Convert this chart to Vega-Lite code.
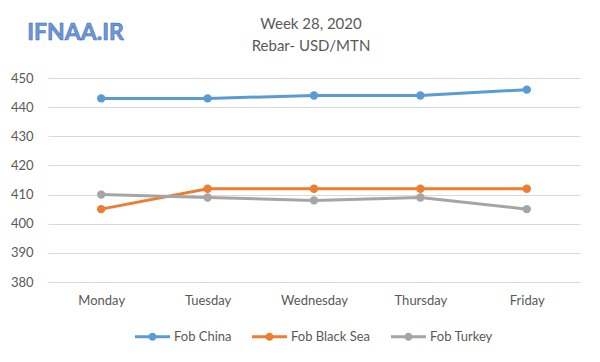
{
  "$schema": "https://vega.github.io/schema/vega-lite/v6.json",
  "width": 532,
  "height": 204,
  "autosize": {"type": "none"},
  "padding": {"left": 48, "top": 78, "right": 20, "bottom": 80},
  "background": "white",
  "config": {
    "font": "Lato",
    "view": {"stroke": null},
    "axis": {"labelColor": "#595959", "labelFontSize": 13, "gridColor": "#D9D9D9", "gridWidth": 1},
    "legend": {"layout": {"bottom": {"anchor": "middle"}}}
  },
  "title": {
    "text": ["Week 28, 2020", "Rebar- USD/MTN"],
    "fontSize": 15,
    "fontWeight": "normal",
    "color": "#595959",
    "lineHeight": 22,
    "anchor": "middle",
    "offset": 12,
    "dy": 44,
    "dx": -3
  },
  "datasets": {
    "prices": [
      {"day": "Monday", "series": "Fob China", "price": 443},
      {"day": "Tuesday", "series": "Fob China", "price": 443},
      {"day": "Wednesday", "series": "Fob China", "price": 444},
      {"day": "Thursday", "series": "Fob China", "price": 444},
      {"day": "Friday", "series": "Fob China", "price": 446},
      {"day": "Monday", "series": "Fob Black Sea", "price": 405},
      {"day": "Tuesday", "series": "Fob Black Sea", "price": 412},
      {"day": "Wednesday", "series": "Fob Black Sea", "price": 412},
      {"day": "Thursday", "series": "Fob Black Sea", "price": 412},
      {"day": "Friday", "series": "Fob Black Sea", "price": 412},
      {"day": "Monday", "series": "Fob Turkey", "price": 410},
      {"day": "Tuesday", "series": "Fob Turkey", "price": 409},
      {"day": "Wednesday", "series": "Fob Turkey", "price": 408},
      {"day": "Thursday", "series": "Fob Turkey", "price": 409},
      {"day": "Friday", "series": "Fob Turkey", "price": 405}
    ],
    "mark": [
      {"day": "Monday", "price": 465.5, "label": "IFNAA.IR"}
    ]
  },
  "layer": [
    {
      "data": {"name": "prices"},
      "mark": {"type": "line", "strokeWidth": 3, "point": {"size": 70, "filled": true, "opacity": 1}},
      "encoding": {
        "x": {
          "field": "day", "type": "nominal",
          "sort": ["Monday", "Tuesday", "Wednesday", "Thursday", "Friday"],
          "scale": {"type": "point", "padding": 0.5},
          "axis": {"title": null, "domain": false, "ticks": false, "labelAngle": 0, "labelPadding": 12, "grid": false}
        },
        "y": {
          "field": "price", "type": "quantitative",
          "scale": {"domain": [380, 450], "nice": false, "zero": false},
          "axis": {"title": null, "domain": false, "ticks": false, "values": [380, 390, 400, 410, 420, 430, 440, 450], "labelOverlap": false, "labelPadding": 15}
        },
        "color": {
          "field": "series", "type": "nominal",
          "sort": ["Fob China", "Fob Black Sea", "Fob Turkey"],
          "scale": {"domain": ["Fob China", "Fob Black Sea", "Fob Turkey"], "range": ["#5B9BD5", "#ED7D31", "#A5A5A5"]},
          "legend": {
            "title": null, "orient": "bottom", "direction": "horizontal",
            "labelColor": "#595959", "labelFontSize": 13, "offset": 12,
            "symbolType": "M-1,-0.086H1V0.086H-1Z M0.23,0A0.23,0.23,0,1,1,-0.23,0A0.23,0.23,0,1,1,0.23,0Z",
            "symbolSize": 1225, "symbolStrokeWidth": 0, "columnPadding": 20,
            "encode": {"symbols": {"update": {"fill": {"scale": "color", "field": "value"}, "strokeWidth": {"value": 0}}}}
          }
        }
      }
    },
    {
      "data": {"name": "mark"},
      "mark": {"type": "text", "align": "left", "baseline": "middle", "dx": -74, "fontSize": 23, "fontWeight": "bold", "color": "#6F98D8", "stroke": "#3F6FB5", "strokeWidth": 0.6},
      "encoding": {
        "x": {"field": "day", "type": "nominal", "sort": ["Monday", "Tuesday", "Wednesday", "Thursday", "Friday"]},
        "y": {
          "field": "price", "type": "quantitative",
          "axis": {"title": null, "domain": false, "ticks": false, "values": [380, 390, 400, 410, 420, 430, 440, 450], "labelOverlap": false, "labelPadding": 15}
        },
        "text": {"field": "label"}
      }
    }
  ]
}
